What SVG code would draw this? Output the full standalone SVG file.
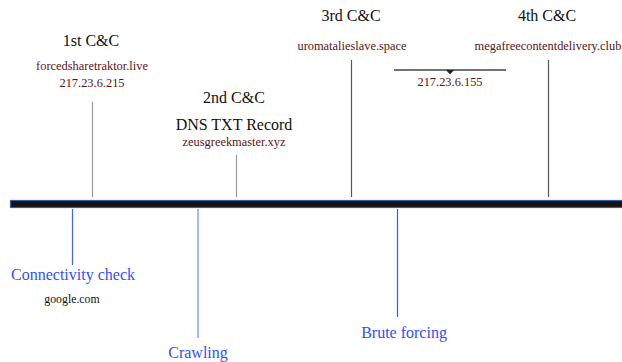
<svg xmlns="http://www.w3.org/2000/svg" width="622" height="362" viewBox="0 0 622 362">
<defs>
<style>
.t{font-family:"Liberation Serif","DejaVu Serif",serif;text-anchor:middle}
.h{font-size:16px;fill:#111}
.s{font-size:12.4px;fill:#5a1414}
.b{font-size:16px;fill:#3350f0}
.g{font-size:11.8px;fill:#111}
.up{stroke:#999;stroke-width:1.2}
.up2{stroke:#555;stroke-width:1.2}
</style>
</defs>
<rect width="622" height="362" fill="#fff"/>
<g id="timeline">
<rect x="10.5" y="200.5" width="613" height="7" fill="#141414" stroke="#3a5aa8" stroke-width="1.2"/>
</g>
<g id="connectors">
<line class="up" x1="92.5" y1="102" x2="92.5" y2="197"/>
<line class="up" x1="236.5" y1="155" x2="236.5" y2="197"/>
<line class="up2" x1="351.5" y1="60" x2="351.5" y2="197"/>
<line class="up2" x1="548.5" y1="60" x2="548.5" y2="197"/>
<line stroke="#4466ff" stroke-width="1.2" x1="72.5" y1="209" x2="72.5" y2="265"/>
<line stroke="#8aa6ff" stroke-width="1.5" x1="198" y1="209" x2="198" y2="338"/>
<line stroke="#3a55f0" stroke-width="1.2" x1="397.5" y1="209" x2="397.5" y2="317"/>
</g>
<g id="cc1">
<text class="t h" x="91" y="46">1st C&amp;C</text>
<text class="t s" x="92" y="70">forcedsharetraktor.live</text>
<text class="t s" x="92" y="87">217.23.6.215</text>
</g>
<g id="cc2">
<text class="t h" x="234" y="103">2nd C&amp;C</text>
<text class="t h" x="234" y="130">DNS TXT Record</text>
<text class="t s" x="234" y="146">zeusgreekmaster.xyz</text>
</g>
<g id="cc3">
<text class="t h" x="351" y="21">3rd C&amp;C</text>
<text class="t s" x="352" y="50">uromatalieslave.space</text>
</g>
<g id="cc4">
<text class="t h" x="547" y="21">4th C&amp;C</text>
<text class="t s" x="548" y="50">megafreecontentdelivery.club</text>
</g>
<g id="shared-ip">
<line x1="394" y1="70" x2="506" y2="70" stroke="#444" stroke-width="1.3"/>
<polygon points="446,70 454,70 450,74.5" fill="#222"/>
<text class="t s" x="450" y="86">217.23.6.155</text>
</g>
<g id="connectivity">
<text class="t b" x="73" y="280">Connectivity check</text>
<text class="t g" x="72" y="303">google.com</text>
</g>
<g id="crawling">
<text class="t b" x="198" y="358">Crawling</text>
</g>
<g id="brute">
<text class="t b" x="404" y="338">Brute forcing</text>
</g>
</svg>
